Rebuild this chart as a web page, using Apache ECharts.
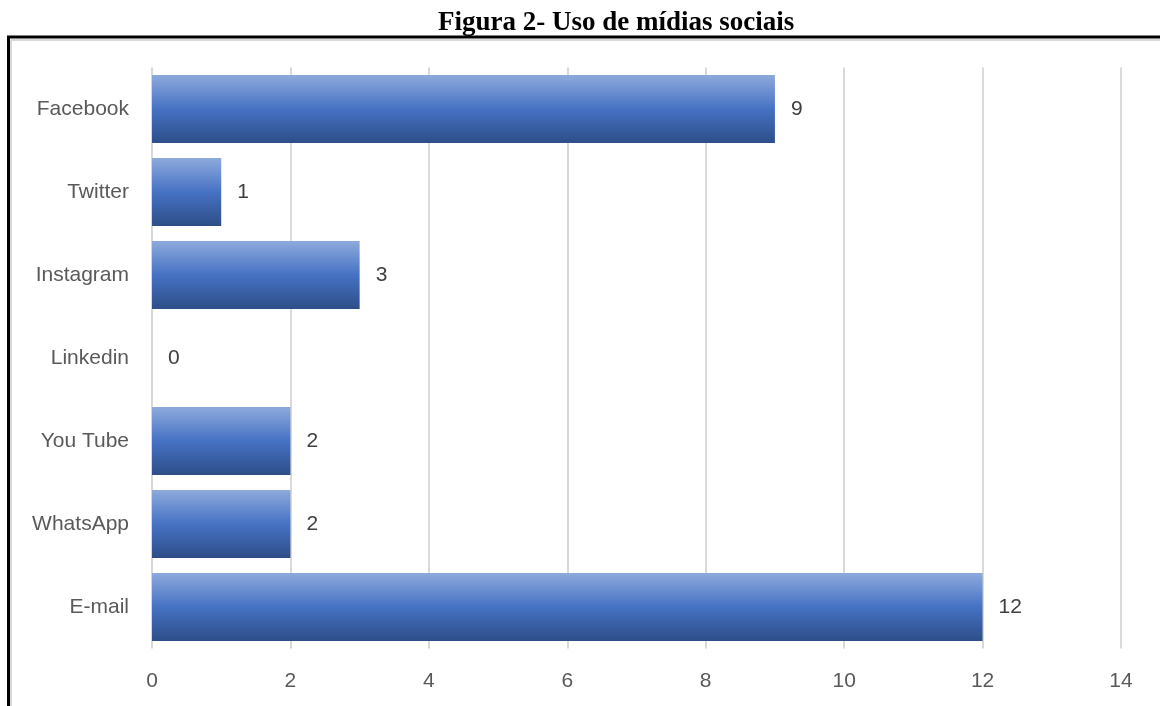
<!DOCTYPE html>
<html><head><meta charset="utf-8">
<script src="https://cdn.jsdelivr.net/npm/echarts@6/dist/echarts.min.js"></script>
<style>html,body{margin:0;padding:0;background:#fff}#c{width:1160px;height:706px}</style>
</head><body><div id="c"></div>
<script>
const categories = ['Facebook','Twitter','Instagram','Linkedin','You Tube','WhatsApp','E-mail'];
const values = [9,1,3,0,2,2,12];
const xTicks = [0,2,4,6,8,10,12,14];
const titleText = 'Figura 2- Uso de mídias sociais';

const chart = echarts.init(document.getElementById('c'));
const font = '"Liberation Sans", Arial, sans-serif';
chart.setOption({
  animation:false,
  title:{text:titleText,left:433,top:5,textStyle:{fontFamily:'"Liberation Serif", "Times New Roman", serif',fontWeight:'bold',fontSize:27,color:'#000'}},
  graphic:[
    {type:'line',shape:{x1:11,y1:40,x2:1160,y2:40},style:{stroke:'#d9d9d9',lineWidth:2},z:1},
    {type:'line',shape:{x1:11,y1:40,x2:11,y2:706},style:{stroke:'#d9d9d9',lineWidth:2},z:1},
    {type:'line',shape:{x1:7,y1:37,x2:1160,y2:37},style:{stroke:'#000',lineWidth:3},z:2},
    {type:'line',shape:{x1:8.5,y1:36,x2:8.5,y2:706},style:{stroke:'#000',lineWidth:3},z:2}
  ],
  grid:{left:152,right:39,top:67.5,bottom:57.5,containLabel:false},
  xAxis:{type:'value',min:xTicks[0],max:xTicks[xTicks.length-1],interval:2,
    axisLine:{show:false},axisTick:{show:false},
    splitLine:{show:true,lineStyle:{color:'#d9d9d9',width:2}},
    axisLabel:{margin:22,fontFamily:font,fontSize:21,color:'#595959'}},
  yAxis:{type:'category',data:categories,inverse:true,
    axisLine:{show:false},axisTick:{show:false},
    axisLabel:{margin:23,fontFamily:font,fontSize:21,color:'#595959'}},
  series:[{type:'bar',data:values,barCategoryGap:'18%',
    itemStyle:{color:new echarts.graphic.LinearGradient(0,0,0,1,[
      {offset:0,color:'#8eaadc'},{offset:0.5,color:'#4672c4'},{offset:1,color:'#2d4e88'}])},
    label:{show:true,position:'right',distance:16,fontFamily:font,fontSize:21,color:'#404040'}
  }]
});
</script></body></html>
